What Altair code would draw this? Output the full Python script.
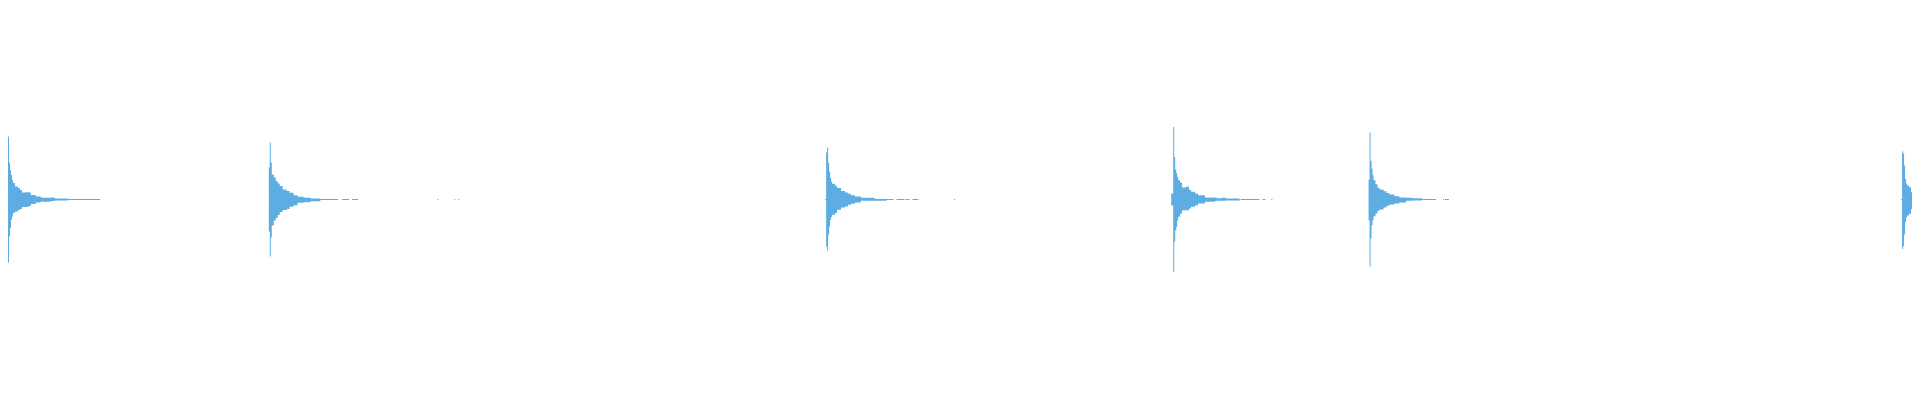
import altair as alt
import pandas as pd

# Onset (bin index, 0..1920) of each percussive hit
onsets = [0, 263, 824, 1173, 1372, 1909]

# Envelope segments per hit: (from bin, to bin, positive peak %, negative peak %)
hit1 = [
    (0, 1, 32.9, 32.9), (1, 2, 19.3, 19.3), (2, 3, 15.4, 14.9), (3, 4, 12.8, 10.7),
    (4, 5, 10.2, 8.9), (5, 7, 8.6, 7.0), (7, 10, 6.8, 6.3), (10, 12, 6.0, 5.5),
    (12, 14, 5.0, 5.0), (14, 19, 3.7, 3.9), (19, 21, 3.8, 3.8), (21, 23, 3.7, 3.4),
    (23, 28, 2.3, 2.3), (28, 33, 1.6, 1.6), (33, 35, 1.0, 1.0), (35, 43, 0.9, 1.2),
    (43, 47, 1.1, 0.8), (47, 60, 0.5, 0.5), (60, 93, 0.26, 0.26),
]
hit2 = [
    (0, 1, 16.7, 16.7), (1, 2, 29.8, 29.8), (2, 3, 19.3, 19.8), (3, 5, 13.1, 13.6),
    (5, 7, 11.5, 11.0), (7, 9, 9.7, 9.7), (9, 11, 8.4, 8.1), (11, 14, 7.0, 6.5),
    (14, 18, 5.2, 5.5), (18, 21, 4.4, 5.0), (21, 25, 3.5, 3.8), (25, 29, 2.2, 3.0),
    (29, 35, 1.4, 1.7), (35, 42, 0.9, 1.4), (42, 52, 0.5, 0.9), (52, 70, 0.26, 0.26),
    (74, 81, 0.26, 0.26), (84, 90, 0.26, 0.26), (170, 171, 0.26, 0.26),
    (187, 188, 0.26, 0.26), (191, 192, 0.26, 0.26),
]
hit3 = [
    (0, 1, 0.26, 0.26), (1, 2, 24.5, 24.5), (2, 3, 27.2, 26.6), (3, 4, 19.1, 18.4),
    (4, 5, 14.6, 14.1), (5, 6, 11.2, 10.6), (6, 7, 9.4, 9.2), (7, 10, 8.2, 8.0),
    (10, 12, 7.2, 7.1), (12, 16, 6.0, 5.4), (16, 20, 4.5, 4.2), (20, 23, 3.7, 3.7),
    (23, 26, 3.0, 2.8), (26, 30, 2.2, 2.2), (30, 36, 1.6, 1.6), (36, 50, 0.9, 0.7),
    (50, 62, 0.2, 0.7), (62, 69, 0.26, 0.26), (72, 80, 0.26, 0.26),
    (81, 85, 0.26, 0.26), (88, 94, 0.26, 0.26), (130, 131, 0.26, 0.26),
]
hit4 = [
    (0, 2, 3.1, 3.1), (2, 3, 37.9, 37.8), (3, 4, 22.2, 22.1), (4, 5, 15.7, 16.0),
    (5, 6, 13.9, 14.3), (6, 7, 11.8, 10.8), (7, 9, 10.1, 9.0), (9, 11, 8.7, 7.3),
    (11, 15, 6.3, 5.6), (15, 18, 6.6, 5.6), (18, 20, 4.9, 4.7), (20, 24, 4.0, 3.8),
    (24, 27, 3.1, 3.0), (27, 34, 2.2, 2.1), (34, 44, 1.0, 1.2), (44, 46, 0.9, 0.8),
    (46, 51, 0.7, 0.7), (51, 55, 0.9, 0.7), (55, 69, 0.5, 0.5), (70, 89, 0.26, 0.26),
    (92, 95, 0.26, 0.26), (101, 102, 0.26, 0.26),
]
hit5 = [
    (0, 1, 10.4, 10.8), (1, 2, 35.0, 35.0), (2, 3, 20.2, 20.4), (3, 4, 16.2, 13.4),
    (4, 5, 12.7, 10.8), (5, 7, 10.1, 8.7), (7, 9, 8.0, 7.3), (9, 11, 6.1, 5.9),
    (11, 15, 5.2, 5.2), (15, 18, 4.3, 4.2), (18, 21, 3.4, 3.3), (21, 26, 2.6, 2.6),
    (26, 31, 1.7, 2.1), (31, 38, 1.0, 1.6), (38, 44, 0.9, 0.7), (44, 54, 0.7, 0.5),
    (54, 68, 0.26, 0.26), (75, 76, 0.26, 0.26), (77, 81, 0.26, 0.26),
]
hit6 = [
    (0, 1, 0.26, 0.26), (1, 2, 25.2, 25.9), (2, 3, 24.0, 24.4), (3, 4, 17.7, 18.3),
    (4, 5, 10.8, 11.8), (5, 6, 8.2, 9.2), (6, 8, 7.3, 8.4), (8, 10, 6.4, 7.5),
    (10, 11, 3.8, 4.9),
]

hits = [hit1, hit2, hit3, hit4, hit5, hit6]

# Build step-area runs: contiguous segments share a run id
rows = []
run = 0
for onset, segs in zip(onsets, hits):
    prev_end = None
    last = None
    for a, b, up, down in segs:
        if prev_end is not None and a != prev_end:
            rows.append({"t": onset + last[1], "hi": last[2], "lo": -last[3], "run": run})
            run += 1
        rows.append({"t": onset + a, "hi": up, "lo": -down, "run": run})
        prev_end = b
        last = (a, b, up, down)
    rows.append({"t": onset + last[1], "hi": last[2], "lo": -last[3], "run": run})
    run += 1
df = pd.DataFrame(rows)
df["run"] = df["run"].astype(str)

chart = (
    alt.Chart(df)
    .mark_area(color="#5DADE2", interpolate="step-after")
    .encode(
        x=alt.X("t:Q", scale=alt.Scale(domain=[0, 1920], nice=False, zero=False), axis=None),
        y=alt.Y("hi:Q", scale=alt.Scale(domain=[-100, 100], nice=False), axis=None, stack=None),
        y2="lo:Q",
        detail="run:N",
    )
    .properties(width=1904, height=383, padding=0)
    .configure_view(stroke=None)
)

chart.save("out.html", embed_options={"renderer": "svg", "actions": False})
